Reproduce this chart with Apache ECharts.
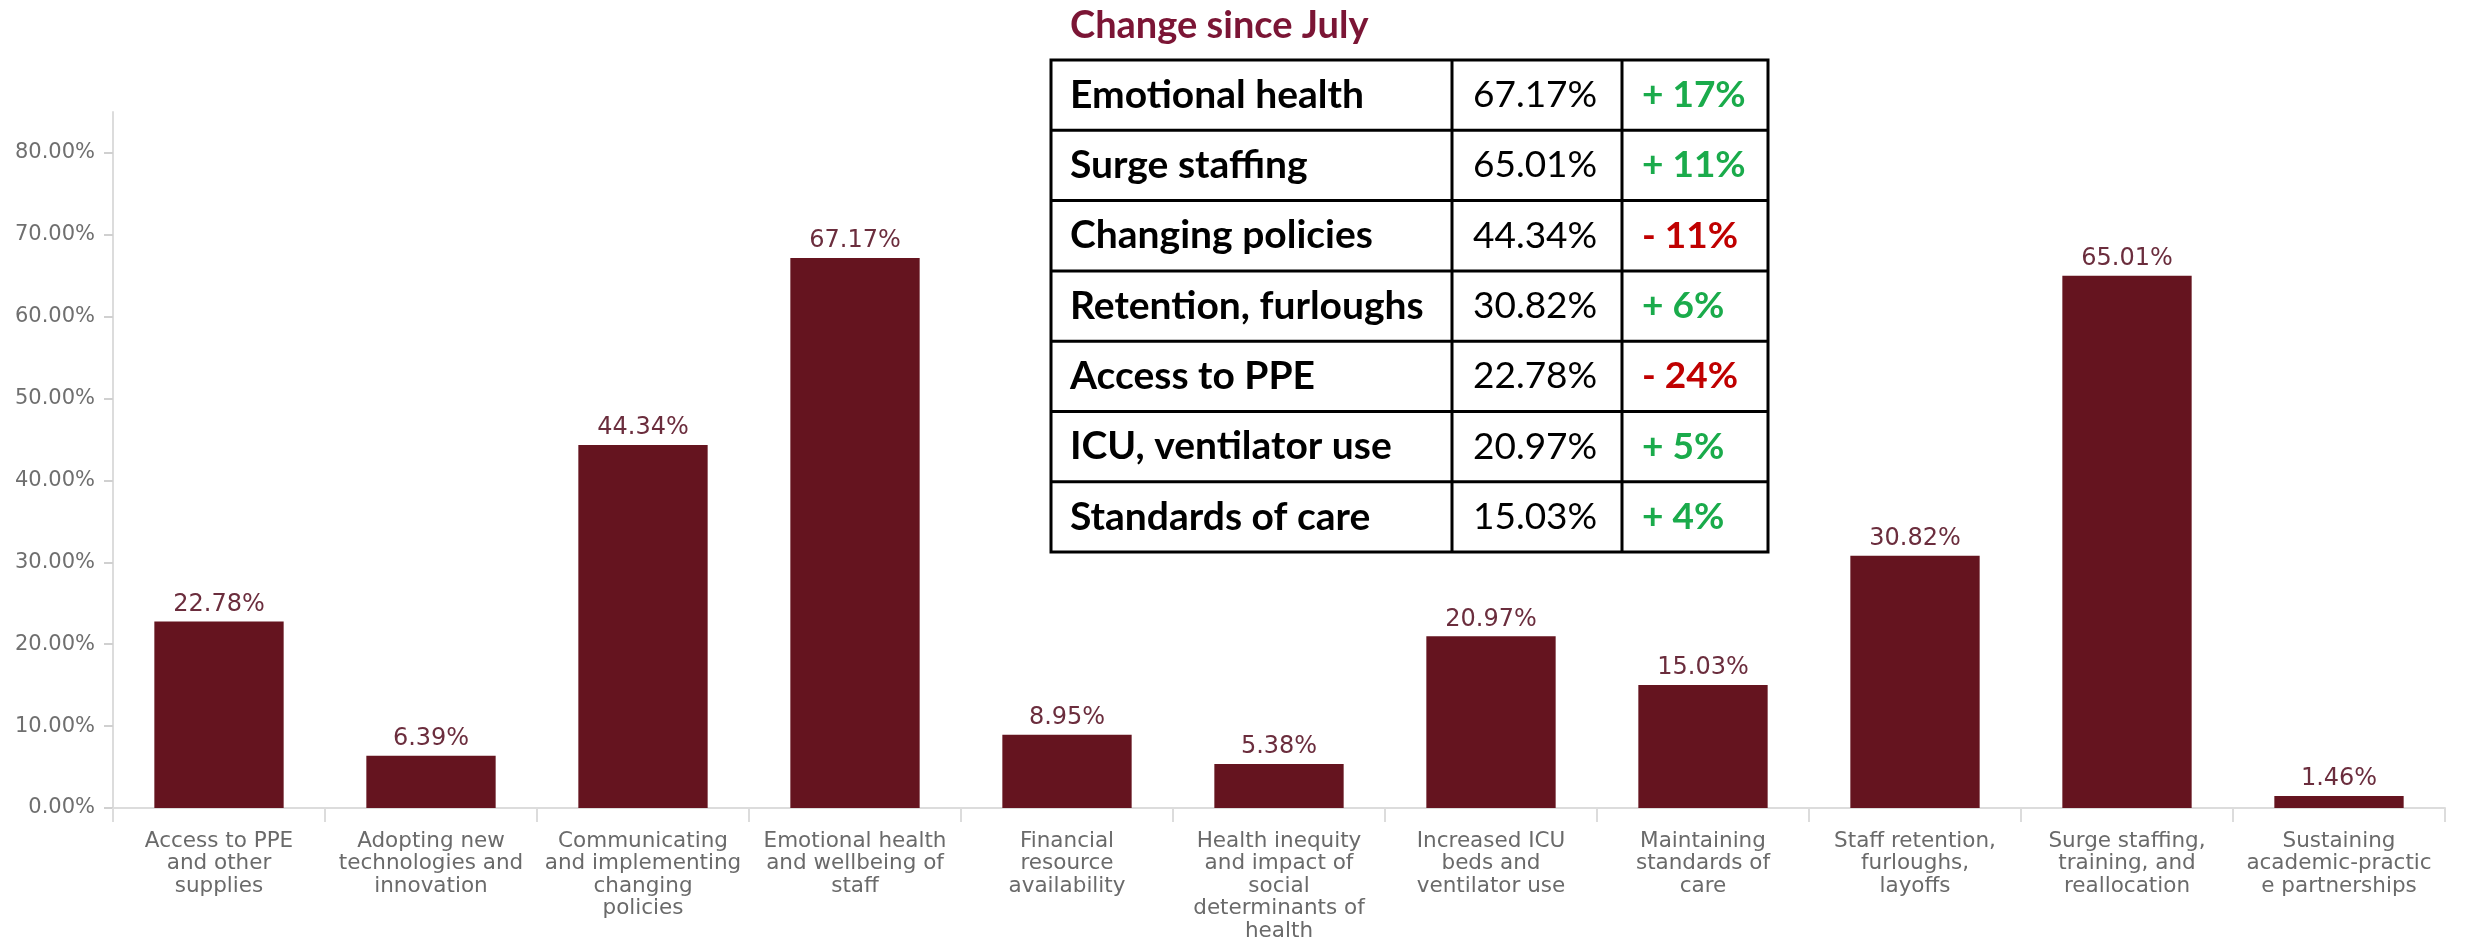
<!DOCTYPE html>
<html>
<head>
<meta charset="utf-8">
<script src="https://cdn.jsdelivr.net/npm/echarts/dist/echarts.min.js"></script>
<style>
  html, body { margin: 0; padding: 0; background: #fff; }
  #chart { width: 2465px; height: 939px; }
</style>
</head>
<body>
<div id="chart"></div>
<script>
// bar chart data
const categories = [
  'Access to PPE\nand other\nsupplies',
  'Adopting new\ntechnologies and\ninnovation',
  'Communicating\nand implementing\nchanging\npolicies',
  'Emotional health\nand wellbeing of\nstaff',
  'Financial\nresource\navailability',
  'Health inequity\nand impact of\nsocial\ndeterminants of\nhealth',
  'Increased ICU\nbeds and\nventilator use',
  'Maintaining\nstandards of\ncare',
  'Staff retention,\nfurloughs,\nlayoffs',
  'Surge staffing,\ntraining, and\nreallocation',
  'Sustaining\nacademic-practic\ne partnerships'
]
const values = [22.78, 6.39, 44.34, 67.17, 8.95, 5.38, 20.97, 15.03, 30.82, 65.01, 1.46]
const yTicks = [0, 10, 20, 30, 40, 50, 60, 70, 80]

// table data
const tableTitle = 'Change since July'
const tableLabels = ['Emotional health', 'Surge staffing', 'Changing policies', 'Retention, furloughs', 'Access to PPE', 'ICU, ventilator use', 'Standards of care']
const tableValues = ['67.17%', '65.01%', '44.34%', '30.82%', '22.78%', '20.97%', '15.03%']
const tableChanges = ['+ 17%', '+ 11%', '- 11%', '+ 6%', '- 24%', '+ 5%', '+ 4%']

const maroon = '#65141f'
const green = '#1aab4b'
const red = '#c00000'

// table layout
const tLeft = 1051, tRight = 1768, tTop = 60, rowH = 70.3
const colX = [tLeft, 1452, 1622, tRight]
const tBottom = tTop + rowH * tableLabels.length

let graphics = []
graphics.push({
  type: 'text', left: 1070, top: 7,
  style: { text: tableTitle, font: 'bold 38px Lato', fill: '#7b1535' }
})
graphics.push({
  type: 'rect',
  shape: { x: tLeft, y: tTop, width: tRight - tLeft, height: tBottom - tTop },
  style: { fill: '#fff', stroke: '#000', lineWidth: 3 }
})
for (let i = 1; i < tableLabels.length; i++) {
  let y = tTop + rowH * i
  graphics.push({ type: 'line', shape: { x1: tLeft, y1: y, x2: tRight, y2: y }, style: { stroke: '#000', lineWidth: 3 } })
}
for (let c = 1; c < 3; c++) {
  graphics.push({ type: 'line', shape: { x1: colX[c], y1: tTop, x2: colX[c], y2: tBottom }, style: { stroke: '#000', lineWidth: 3 } })
}
for (let i = 0; i < tableLabels.length; i++) {
  let cy = tTop + rowH * (i + 0.5)
  graphics.push({
    type: 'text', x: tLeft + 19, y: cy,
    style: { text: tableLabels[i], font: 'bold 39px Lato', fill: '#000', verticalAlign: 'middle' }
  })
  graphics.push({
    type: 'text', x: colX[1] + 21, y: cy,
    style: { text: tableValues[i], font: '37px Lato', fill: '#000', verticalAlign: 'middle' }
  })
  let up = tableChanges[i].charAt(0) === '+'
  graphics.push({
    type: 'text', x: colX[2] + 20, y: cy,
    style: { text: tableChanges[i], font: 'bold 37px Lato', fill: up ? green : red, verticalAlign: 'middle' }
  })
}

const chart = echarts.init(document.getElementById('chart'))
chart.setOption({
  backgroundColor: '#fff',
  animation: false,
  grid: { left: 113, right: 20, top: 112, bottom: 131, containLabel: false, outerBoundsMode: 'none' },
  xAxis: {
    type: 'category',
    data: categories,
    axisLine: { lineStyle: { color: '#dcdcdc', width: 2 } },
    axisTick: { show: true, interval: 0, length: 14, lineStyle: { color: '#dcdcdc', width: 2 } },
    axisLabel: {
      interval: 0, margin: 22, color: '#6a6a6a',
      fontFamily: 'DejaVu Sans', fontSize: 21.5, lineHeight: 22.5, align: 'center'
    }
  },
  yAxis: {
    type: 'value',
    min: 0, max: 85, interval: 10,
    splitLine: { show: false },
    axisLine: { show: true, lineStyle: { color: '#dcdcdc', width: 2 } },
    axisTick: { show: true, length: 9, customValues: yTicks, lineStyle: { color: '#d0d0d0', width: 2 } },
    axisLabel: {
      margin: 18, color: '#6f6f6f', fontFamily: 'DejaVu Sans', fontSize: 21,
      customValues: yTicks,
      formatter: v => v.toFixed(2) + '%'
    }
  },
  series: [{
    type: 'bar',
    data: values,
    barWidth: '61%',
    itemStyle: { color: maroon },
    label: {
      show: true, position: 'top', distance: 5,
      color: '#6b2d3d', fontFamily: 'DejaVu Sans', fontSize: 24,
      formatter: p => p.value.toFixed(2) + '%'
    }
  }],
  graphic: graphics
})
</script>
</body>
</html>
